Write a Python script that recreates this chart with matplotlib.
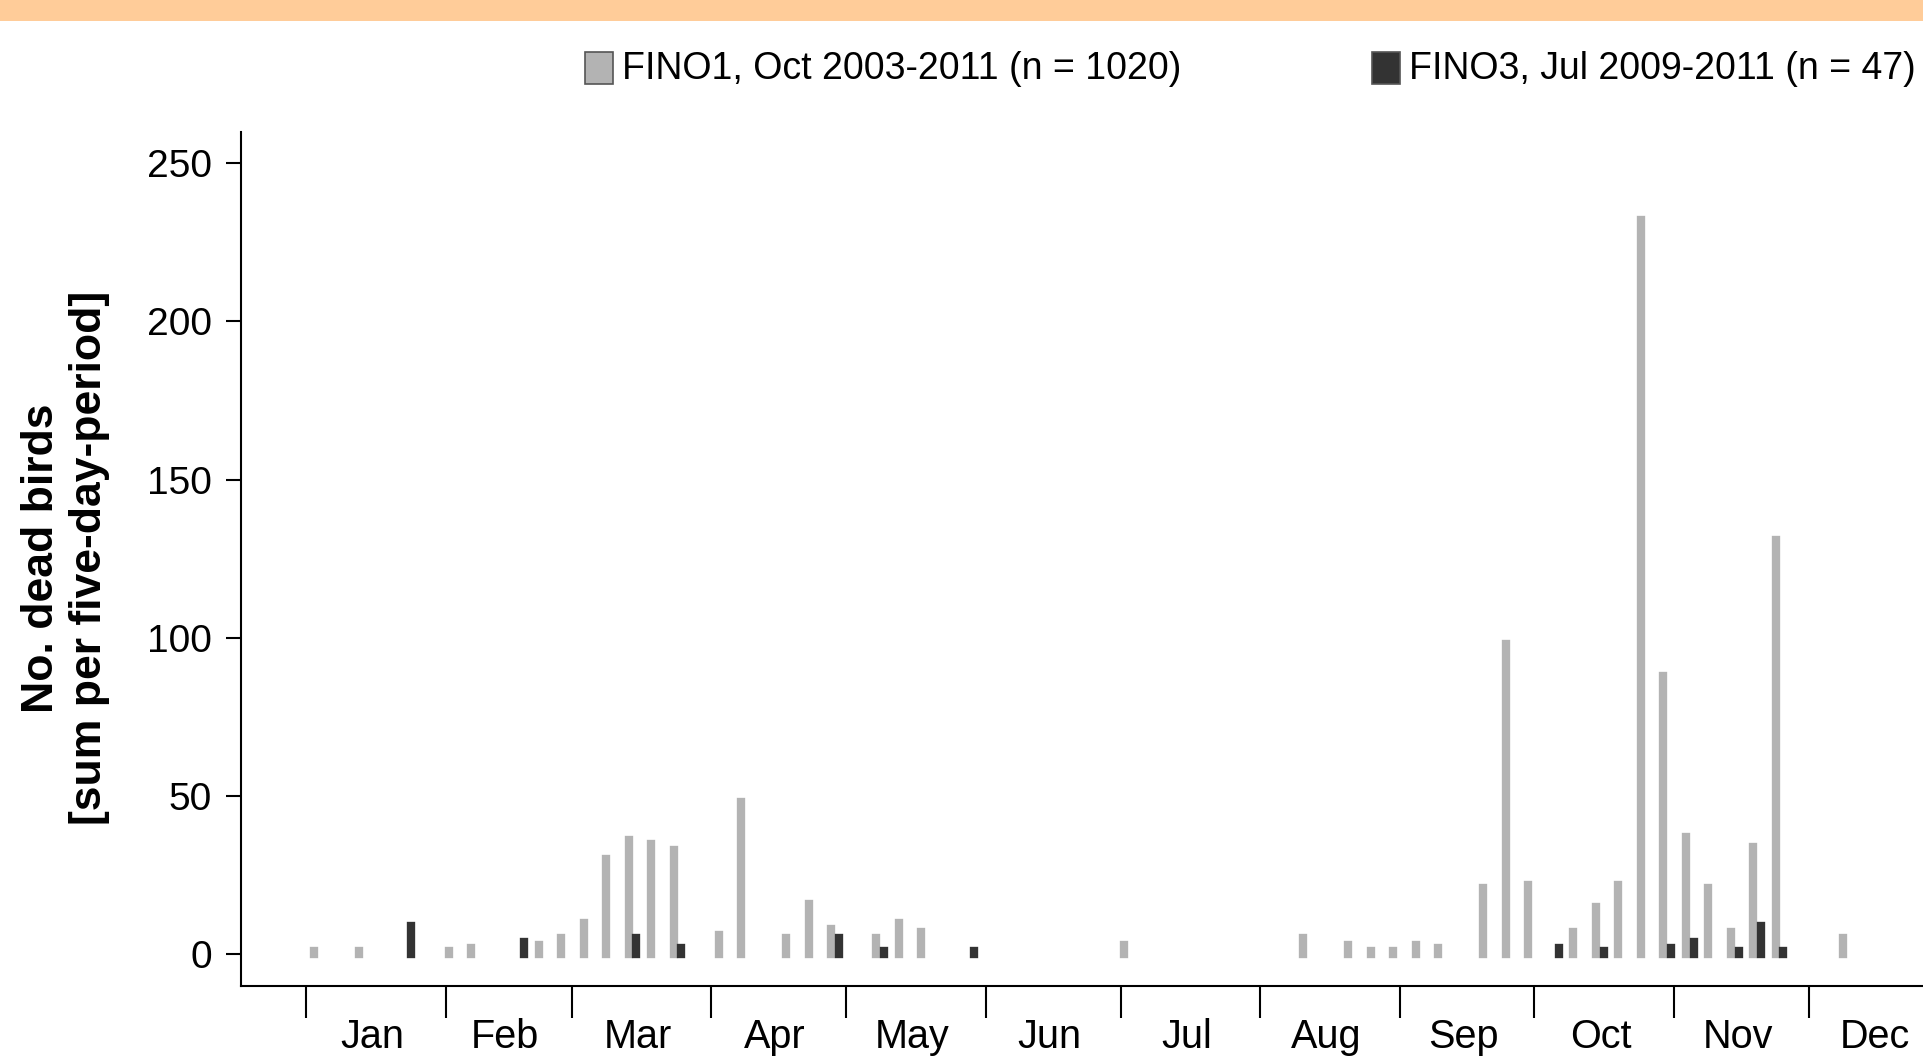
import matplotlib
matplotlib.use('Agg')
import matplotlib.pyplot as plt
from matplotlib.patches import Rectangle
import numpy as np

plt.rcParams['font.family'] = ['Liberation Sans', 'DejaVu Sans']

# dead birds per five-day period (73 periods over the year)
fino1 = [1, 0, 1, 0, 0, 0, 1, 2, 0, 0,
         3, 5, 10, 30, 36, 35, 33, 0, 6, 48,
         0, 5, 16, 8, 0, 5, 10, 7, 0, 0,
         0, 0, 0, 0, 0, 0, 3, 0, 0, 0,
         0, 0, 0, 0, 5, 0, 3, 1, 1, 3,
         2, 0, 21, 98, 22, 0, 7, 15, 22, 232,
         88, 37, 21, 7, 34, 131, 0, 0, 5, 0,
         0, 0, 0]
fino3 = [0, 0, 0, 0, 9, 0, 0, 0, 0, 4,
         0, 0, 0, 0, 5, 0, 2, 0, 0, 0,
         0, 0, 0, 5, 0, 1, 0, 0, 0, 1,
         0, 0, 0, 0, 0, 0, 0, 0, 0, 0,
         0, 0, 0, 0, 0, 0, 0, 0, 0, 0,
         0, 0, 0, 0, 0, 2, 0, 1, 0, 0,
         2, 4, 0, 1, 9, 1, 0, 0, 0, 0,
         0, 0, 0]

months = ['Jan', 'Feb', 'Mar', 'Apr', 'May', 'Jun',
          'Jul', 'Aug', 'Sep', 'Oct', 'Nov', 'Dec']
days_in_month = [31, 28, 31, 30, 31, 30, 31, 31, 30, 31, 30, 31]

legend_labels = ['FINO1, Oct 2003-2011 (n = 1020)', 'FINO3, Jul 2009-2011 (n = 47)']
grey_col = '#b3b3b3'
dark_col = '#333333'

fig = plt.figure(figsize=(19.24, 10.62), dpi=100)

# peach band at the top
fig.patches.append(Rectangle((0, 0.9802), 1, 0.0198, transform=fig.transFigure,
                             facecolor='#ffcc99', edgecolor='none'))

ax = fig.add_axes([0.1251, 0.0716, 0.9217, 0.8045])

x = np.arange(len(fino1))
v1 = np.array(fino1)
v3 = np.array(fino3)
off = 0.17

# bars drawn as thick lines with square ends (R type="h" look)
m1 = v1 > 0
ax.vlines(x[m1] - off, 0, v1[m1], colors=grey_col, linewidth=6,
          capstyle='projecting', zorder=2)
m3 = v3 > 0
ax.vlines(x[m3] + off, 0, v3[m3], colors=dark_col, linewidth=6,
          capstyle='projecting', zorder=3)

ax.set_xlim(-3.42, 75.42)
ax.set_ylim(-10, 260)

# month boundaries and centres in period units
starts = np.concatenate([[0], np.cumsum(days_in_month)])
edges = starts / 5.0 - 0.5
mids = (starts[:-1] + np.array(days_in_month) / 2.0) / 5.0 - 0.5 - off

ax.set_xticks(edges)
ax.set_xticklabels([''] * len(edges))
ax.set_xticks(mids, minor=True)
ax.set_xticklabels(months, minor=True, fontsize=28.5)
ax.tick_params(axis='x', which='major', length=23, width=1.5, direction='out')
ax.tick_params(axis='x', which='minor', length=0, pad=23)

ax.set_yticks([0, 50, 100, 150, 200, 250])
ax.tick_params(axis='y', labelsize=28, length=10.6, width=1.5, pad=10)

for s in ['top', 'right']:
    ax.spines[s].set_visible(False)
for s in ['left', 'bottom']:
    ax.spines[s].set_linewidth(1.5)

fig.text(0.034, 0.4746, 'No. dead birds\n[sum per five-day-period]',
         rotation=90, ha='center', va='center', fontsize=32,
         fontweight='bold', linespacing=1.2, multialignment='center')

# legend drawn by hand across the top
sq_x = [585, 1372]
txt_x = [622, 1409]
for sx, tx, col, lab in zip(sq_x, txt_x, [grey_col, dark_col], legend_labels):
    fig.patches.append(Rectangle((sx / 1924, 1 - 83.5 / 1062), 28 / 1924, 32 / 1062,
                                 transform=fig.transFigure, facecolor=col,
                                 edgecolor='#555555', linewidth=1.2))
    fig.text(tx / 1924, 1 - 68.7 / 1062, lab, ha='left', va='center', fontsize=27)

fig.savefig('out.png', dpi=100)
